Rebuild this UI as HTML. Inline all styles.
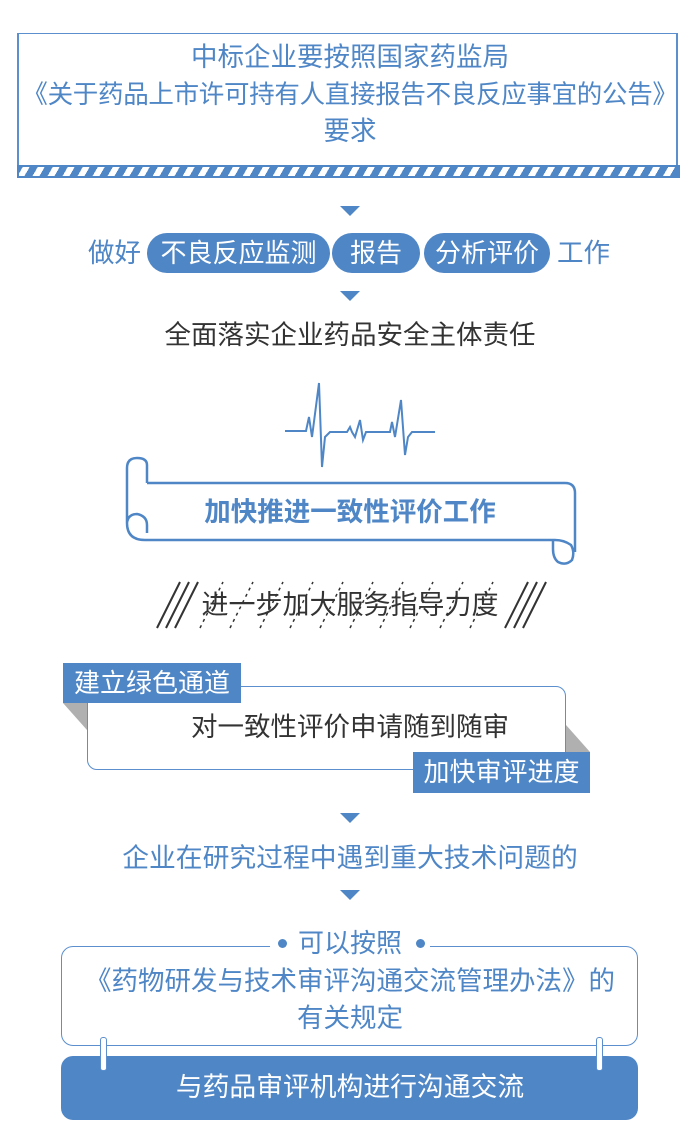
<!DOCTYPE html>
<html><head><meta charset="utf-8"><style>
body{margin:0;width:700px;height:1137px;background:#fff;position:relative;overflow:hidden;font-family:"Liberation Sans","Noto Sans CJK SC",sans-serif;}
.a{position:absolute;}
.t{position:absolute;white-space:nowrap;text-align:center;}
.b{color:#4f86c6;}
.tri{position:absolute;width:0;height:0;border-left:10px solid transparent;border-right:10px solid transparent;border-top:10px solid #4f86c6;}
.pill{position:absolute;background:#4f86c6;color:#fff;border-radius:20px;font-size:26px;text-align:center;line-height:40px;height:40px;}
</style></head><body>
<div class="a" style="left:17px;top:33px;width:661px;height:143px;border:2px solid #5b8fce;border-top-width:1px;box-sizing:border-box;"></div>
<div class="a" style="left:17px;top:165px;width:663px;height:13px;background:repeating-linear-gradient(-60deg,#4f86c6 0 7px,#fff 7px 13px);border:2px solid #4f86c6;box-sizing:border-box;"></div>
<div class="t b" style="left:0;width:700px;top:42px;font-size:26.5px;line-height:30px;">中标企业要按照国家药监局</div>
<div class="t b" style="left:0;width:700px;top:80px;font-size:25.5px;line-height:30px;letter-spacing:-0.3px;">《关于药品上市许可持有人直接报告不良反应事宜的公告》</div>
<div class="t b" style="left:0;width:700px;top:116px;font-size:26.5px;line-height:30px;">要求</div>
<div class="tri" style="left:340px;top:206px;"></div>
<div class="t b" style="left:88px;top:238px;font-size:26.5px;line-height:30px;">做好</div>
<div class="pill" style="left:147px;top:233px;width:183px;">不良反应监测</div>
<div class="pill" style="left:332px;top:233px;width:88px;">报告</div>
<div class="pill" style="left:424px;top:233px;width:126px;">分析评价</div>
<div class="t b" style="left:557px;top:238px;font-size:26.5px;line-height:30px;">工作</div>
<div class="tri" style="left:340px;top:291px;"></div>
<div class="t" style="left:0;width:700px;top:320px;font-size:26.5px;line-height:30px;color:#333;">全面落实企业药品安全主体责任</div>
<svg class="a" style="left:0;top:0" width="700" height="1137">
<polyline fill="none" stroke="#4f86c6" stroke-width="2" points="285,431 306,431 309,417 312,437 319,383 322,467 325,437 330,432 347,432 350,427 352,432 355,437 360,420 363,440 366,432 390,432 392,422 395,437 401,400 405,455 408,437 412,432 435,432"/>
<path fill="none" stroke="#4f86c6" stroke-width="2.5" d="M147,483 H565 Q575,483 575,493 V552 M147,483 V465 Q147,458 137,458 Q127,458 127,468 V523 Q127,540 145,540 H555 Q564,540 571,545 Q575,552 572,560 Q566,566 558,562 Q553,558 553,549 V540 M127,523 Q128,514 137,514 Q147,516 147,525 V533"/>
<g stroke="#333" stroke-width="2">
<line x1="157" y1="628" x2="180" y2="582"/><line x1="166" y1="628" x2="189" y2="582"/><line x1="175" y1="628" x2="198" y2="582"/>
<line x1="514" y1="628" x2="537" y2="582"/><line x1="523" y1="628" x2="546" y2="582"/><line x1="505" y1="628" x2="528" y2="582"/>
</g>
<g stroke="#333" stroke-width="1.5" stroke-dasharray="3 4">
<line x1="200" y1="628" x2="223" y2="582"/><line x1="230" y1="628" x2="253" y2="582"/><line x1="260" y1="628" x2="283" y2="582"/><line x1="290" y1="628" x2="313" y2="582"/><line x1="320" y1="628" x2="343" y2="582"/><line x1="350" y1="628" x2="373" y2="582"/><line x1="380" y1="628" x2="403" y2="582"/><line x1="410" y1="628" x2="433" y2="582"/><line x1="440" y1="628" x2="463" y2="582"/><line x1="470" y1="628" x2="493" y2="582"/>
</g>
<polygon points="63,703 87,703 87,730" fill="#b0b0b0"/>
<polygon points="566,725 566,752 590,752" fill="#b0b0b0"/>
</svg>
<div class="t" style="left:0;width:700px;top:497px;font-size:26.5px;line-height:30px;color:#4f86c6;font-weight:bold;">加快推进一致性评价工作</div>
<div class="t" style="left:0;width:700px;top:590px;font-size:27px;line-height:30px;color:#333;">进一步加大服务指导力度</div>
<div class="a" style="left:87px;top:686px;width:479px;height:84px;border:1.5px solid #5b8fce;border-radius:10px;box-sizing:border-box;"></div>
<div class="a" style="left:63px;top:663px;width:178px;height:40px;background:#4f86c6;color:#fff;font-size:26px;line-height:40px;text-align:center;">建立绿色通道</div>
<div class="t" style="left:0;width:700px;top:712px;font-size:26.5px;line-height:30px;color:#333;">对一致性评价申请随到随审</div>
<div class="a" style="left:413px;top:752px;width:177px;height:41px;background:#4f86c6;color:#fff;font-size:26px;line-height:41px;text-align:center;">加快审评进度</div>
<div class="tri" style="left:340px;top:813px;"></div>
<div class="t b" style="left:0;width:700px;top:843px;font-size:26.8px;line-height:30px;">企业在研究过程中遇到重大技术问题的</div>
<div class="tri" style="left:340px;top:890px;"></div>
<div class="a" style="left:61px;top:946px;width:577px;height:100px;border:1.5px solid #5b8fce;border-radius:12px;box-sizing:border-box;"></div>
<div class="a" style="left:270px;top:935px;width:160px;height:20px;background:#fff;"></div>
<div class="a" style="left:278px;top:939px;width:9px;height:9px;border-radius:50%;background:#4f86c6;"></div>
<div class="a" style="left:416px;top:939px;width:9px;height:9px;border-radius:50%;background:#4f86c6;"></div>
<div class="t b" style="left:0;width:700px;top:928px;font-size:26px;line-height:30px;">可以按照</div>
<div class="t b" style="left:0;width:700px;top:966px;font-size:26.5px;line-height:30px;">《药物研发与技术审评沟通交流管理办法》的</div>
<div class="t b" style="left:0;width:700px;top:1003px;font-size:26.5px;line-height:30px;">有关规定</div>
<div class="a" style="left:61px;top:1056px;width:577px;height:64px;background:#4f86c6;border-radius:12px;"></div>
<div class="t" style="left:0;width:700px;top:1072px;font-size:26.8px;line-height:30px;color:#fff;">与药品审评机构进行沟通交流</div>
<div class="a" style="left:100px;top:1037px;width:5px;height:32px;background:#fff;border:1.5px solid #5b8fce;border-radius:3px;"></div>
<div class="a" style="left:596px;top:1037px;width:5px;height:32px;background:#fff;border:1.5px solid #5b8fce;border-radius:3px;"></div>
</body></html>
